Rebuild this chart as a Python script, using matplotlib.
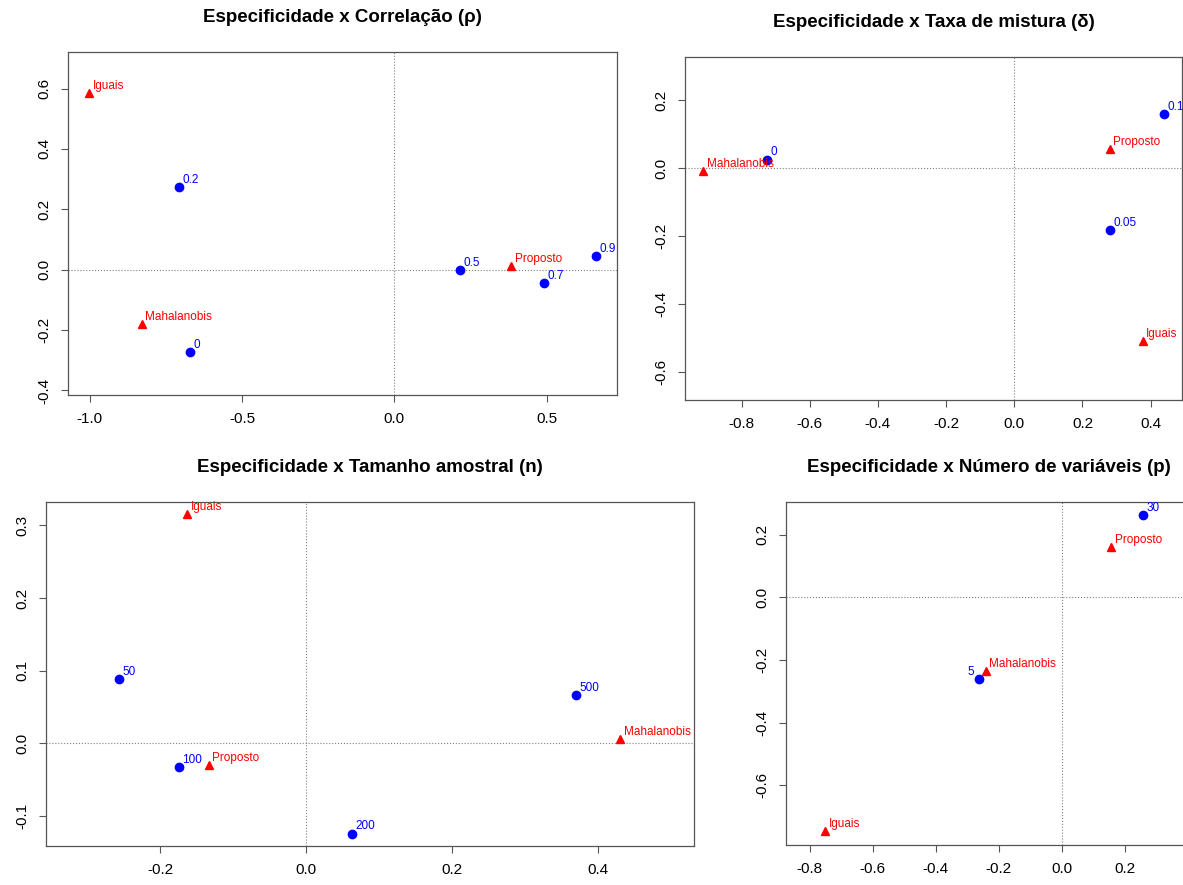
import numpy as np
import matplotlib
matplotlib.use("Agg")
import matplotlib.pyplot as plt

plt.rcParams['font.family'] = ['Liberation Sans', 'DejaVu Sans']

# panel 1: correlation
rho_levels = ['0', '0.2', '0.5', '0.7', '0.9']
rho_lx = [-0.670, -0.709, 0.215, 0.491, 0.663]
rho_ly = [-0.274, 0.273, 0.000, -0.044, 0.046]
rho_methods = ['Iguais', 'Mahalanobis', 'Proposto']
rho_mx = [-1.003, -0.829, 0.384]
rho_my = [0.586, -0.179, 0.011]

# panel 2: mixing rate
delta_levels = ['0', '0.05', '0.1']
delta_lx = [-0.724, 0.280, 0.439]
delta_ly = [0.025, -0.183, 0.158]
delta_methods = ['Mahalanobis', 'Proposto', 'Iguais']
delta_mx = [-0.913, 0.280, 0.377]
delta_my = [-0.008, 0.056, -0.509]

# panel 3: sample size
n_levels = ['50', '100', '200', '500']
n_lx = [-0.256, -0.174, 0.063, 0.369]
n_ly = [0.089, -0.032, -0.124, 0.067]
n_methods = ['Iguais', 'Proposto', 'Mahalanobis']
n_mx = [-0.163, -0.133, 0.430]
n_my = [0.315, -0.030, 0.006]

# panel 4: number of variables
p_levels = ['5', '30']
p_lx = [-0.262, 0.259]
p_ly = [-0.261, 0.263]
p_methods = ['Iguais', 'Mahalanobis', 'Proposto']
p_mx = [-0.750, -0.241, 0.157]
p_my = [-0.747, -0.236, 0.160]

W, H = 1183, 885
fig = plt.figure(figsize=(W / 100, H / 100), dpi=100)


def add_panel(left, right, top, bottom):
    return fig.add_axes([left / W, 1 - bottom / H, (right - left) / W, (bottom - top) / H])


def draw(ax, title, lx, ly, levels, mx, my, methods, xlim, ylim, xticks, yticks, left_labels=()):
    ax.axhline(0, color='#808080', lw=0.8, ls=':', zorder=1)
    ax.axvline(0, color='#808080', lw=0.8, ls=':', zorder=1)
    ax.plot(lx, ly, 'o', color='#0000FF', ms=6, zorder=3)
    ax.plot(mx, my, '^', color='#FF0000', ms=6, zorder=3)
    for x, y, s in zip(lx, ly, levels):
        if s in left_labels:
            ax.annotate(s, (x, y), xytext=(-3.5, 3), textcoords='offset points',
                        ha='right', va='baseline', color='#0000FF', fontsize=8.5)
        else:
            ax.annotate(s, (x, y), xytext=(2.5, 3), textcoords='offset points',
                        ha='left', va='baseline', color='#0000FF', fontsize=8.5)
    for x, y, s in zip(mx, my, methods):
        ax.annotate(s, (x, y), xytext=(2.5, 3), textcoords='offset points',
                    ha='left', va='baseline', color='#FF0000', fontsize=8.5)
    ax.set_xlim(*xlim)
    ax.set_ylim(*ylim)
    ax.set_xticks(xticks)
    ax.set_yticks(yticks)
    ax.set_xticklabels(['%.1f' % t for t in xticks])
    ax.set_yticklabels(['%.1f' % t for t in yticks], rotation=90, va='center')
    ax.tick_params(length=5, width=0.8, color='#555555', labelsize=11)
    ax.tick_params(axis='x', pad=7)
    ax.tick_params(axis='y', pad=7)
    for sp in ax.spines.values():
        sp.set_color('#555555')
        sp.set_linewidth(0.9)
    ax.annotate(title, xy=(0.5, 1), xycoords='axes fraction', xytext=(0, 25),
                textcoords='offset points', ha='center', va='center',
                fontsize=13.5, fontweight='bold')


ax1 = add_panel(68, 617, 52, 395)
draw(ax1, 'Especificidade x Correlação (ρ)', rho_lx, rho_ly, rho_levels,
     rho_mx, rho_my, rho_methods, (-1.072, 0.731), (-0.415, 0.721),
     [-1.0, -0.5, 0.0, 0.5], [-0.4, -0.2, 0.0, 0.2, 0.4, 0.6])

ax2 = add_panel(685, 1182, 57, 400)
draw(ax2, 'Especificidade x Taxa de mistura (δ)', delta_lx, delta_ly, delta_levels,
     delta_mx, delta_my, delta_methods, (-0.966, 0.492), (-0.682, 0.327),
     [-0.8, -0.6, -0.4, -0.2, 0.0, 0.2, 0.4], [-0.6, -0.4, -0.2, 0.0, 0.2])

ax3 = add_panel(46, 694, 502, 846)
draw(ax3, 'Especificidade x Tamanho amostral (n)', n_lx, n_ly, n_levels,
     n_mx, n_my, n_methods, (-0.356, 0.531), (-0.141, 0.332),
     [-0.2, 0.0, 0.2, 0.4], [-0.1, 0.0, 0.1, 0.2, 0.3])

ax4 = add_panel(786, 1192, 502, 845)
draw(ax4, 'Especificidade x Número de variáveis (p)', p_lx, p_ly, p_levels,
     p_mx, p_my, p_methods, (-0.875, 0.414), (-0.791, 0.304),
     [-0.8, -0.6, -0.4, -0.2, 0.0, 0.2], [-0.6, -0.4, -0.2, 0.0, 0.2],
     left_labels=('5',))

fig.savefig('out.png', dpi=100)
